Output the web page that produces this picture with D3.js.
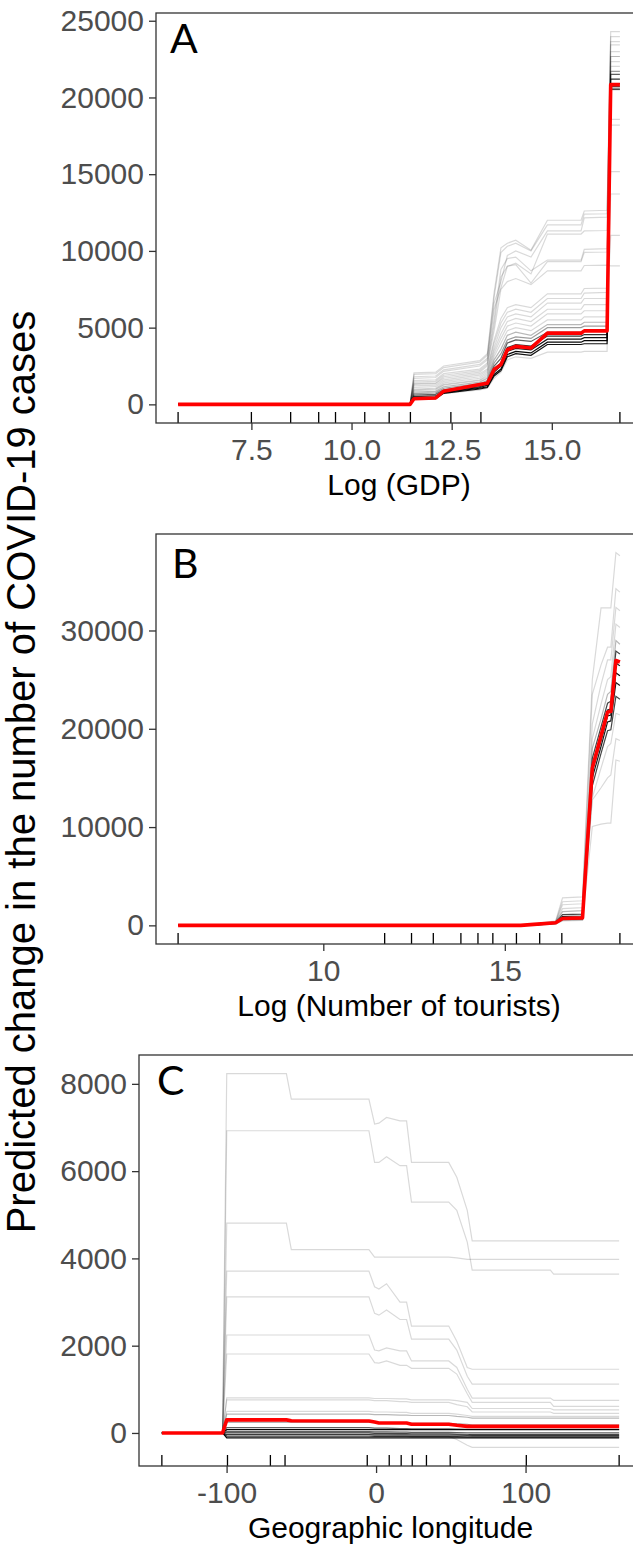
<!DOCTYPE html>
<html>
<head>
<meta charset="utf-8">
<script src="https://cdn.jsdelivr.net/npm/d3@7"></script>
<style>
	body { margin: 0; background: #fff; }
	svg { display: block; }
</style>
</head>
<body>
<script>
////////////////////////////
// data
////////////////////////////

// A : Log (GDP)
var gridA = [5.67, 11.46, 11.56, 12.1, 12.3, 13.2, 13.39, 13.56, 13.73, 13.89, 14.1, 14.48, 14.89, 15.73, 15.81, 16.38, 16.47, 16.7];
var pdpA = [0, 0, 370, 415, 860, 1295, 1380, 2270, 2590, 3560, 3780, 3670, 4640, 4640, 4790, 4790, 20840, 20840];
var iceA = [
	[0,0,2050,2100,2500,2850,3300,7300,10200,10500,10700,10050,12000,12000,12600,12650,24290,24290],
	[0,0,1950,2000,2400,2750,3200,7000,9900,10300,10500,10000,11700,11700,12400,12420,23960,23960],
	[0,0,1800,1850,2250,2600,3000,6600,8000,9700,10000,9600,11300,11300,12150,12200,23640,23640],
	[0,0,1700,1750,2150,2500,2900,6200,7600,9000,9200,8500,11100,11100,11300,11330,23430,23430],
	[0,0,1550,1600,2000,2300,2700,5600,8800,9500,9600,8700,9400,9400,10100,10150,18570,18570],
	[0,0,1450,1500,1900,2200,2600,5200,8300,9000,9100,7900,9300,9300,9900,9930,18200,18200],
	[0,0,1350,1400,1800,2100,2500,4800,7500,8000,8200,7800,8700,8700,9050,9070,9020,9020],
	[0,0,1300,1350,1700,2000,2300,4200,5600,6300,6500,6300,7200,7200,7550,7570,22340,22340],
	[0,0,1200,1250,1600,1900,2200,4000,5300,6000,6200,6000,6900,6900,7250,7300,15170,15170],
	[0,0,1100,1150,1500,1800,2100,3700,5000,5700,5900,5700,6600,6600,6900,6900,22020,22020],
	[0,0,1000,1050,1400,1700,2000,3500,4600,5400,5600,5400,6200,6200,6500,6500,13710,13710],
	[0,0,950,1000,1300,1600,1900,3300,4300,5100,5300,5100,5900,5900,6100,6100,11010,11010],
	[0,0,900,950,1250,1550,1800,3100,4000,4800,5000,4800,5500,5500,5700,5700,22990,22990],
	[0,0,800,850,1150,1450,1700,2900,3600,4500,4700,4500,5200,5200,5350,5350,22670,22670],
	[0,0,700,750,1050,1350,1550,2700,3300,4200,4400,4300,5000,5000,5100,5100,21700,21700],
	[0,0,600,650,950,1250,1450,2500,3000,4000,4200,4100,4700,4700,4800,4800,21500,21500],
	[0,0,500,550,850,1150,1350,2300,2700,3700,3900,3800,4450,4450,4550,4550,21200,21200],
	[0,0,420,460,800,1100,1250,2100,2500,3450,3650,3550,4250,4250,4350,4350,20900,20900],
	[0,0,380,420,760,1050,1150,1950,2300,3250,3450,3350,4050,4050,4150,4150,20700,20700],
	[0,0,350,380,720,1000,1100,1850,2200,3100,3300,3200,3900,3900,3950,3950,20550,20550],
	[0,0,330,360,700,950,1050,1700,2100,2900,3100,3000,3400,3400,3450,3450,20500,20500]
];
// how many country curves sit on top of each other
var countA = [1,1,1,1,1,1,1,1,1,1,1,1,1,2,3,6,10,16,22,16,1];
var rugA = [5.67, 7.5, 8.48, 9.18, 9.6, 10.33, 10.94, 11.47, 12.48, 13.23, 16.7];
var xTicksA = [7.5, 10, 12.5, 15];
var yTicksA = [0, 5000, 10000, 15000, 20000, 25000];

// B : Log (Number of tourists)
var gridB = [6.0, 15.44, 15.8, 16.4, 16.59, 17.14, 17.41, 17.65, 17.83, 17.92, 18.06, 18.17];
var pdpB = [0, 0, 100, 270, 700, 760, 16000, 19300, 21700, 21750, 26950, 26800];
var iceB = [
	[0,0,150,450,2800,2900,25000,32300,32300,32300,37920,37600],
	[0,0,130,400,2400,2500,23500,26500,28300,28300,34240,33900],
	[0,0,110,350,2100,2200,20500,24500,27000,27000,32350,32000],
	[0,0,100,320,1700,1800,19000,22500,25000,25300,30650,30300],
	[0,0,90,300,1400,1500,18000,21000,23500,23800,28970,28600],
	[0,0,70,280,1100,1150,17000,20200,22600,22800,27900,27600],
	[0,0,60,260,900,950,16300,19400,21900,22000,26700,26400],
	[0,0,50,240,750,800,15700,18800,21300,21400,25700,25400],
	[0,0,40,220,650,700,15000,18200,20700,20800,24700,24400],
	[0,0,30,200,600,650,14200,17500,19800,19900,23300,23000],
	[0,0,30,180,550,600,13000,16000,18200,18500,21580,21400],
	[0,0,20,150,500,550,12760,14000,15000,15300,19000,18800],
	[0,0,20,120,450,500,10060,10300,10400,10400,16820,16700]
];
var countB = [1,1,1,1,2,8,14,22,14,8,1,1,1];
var rugB = [6.0, 11.69, 12.43, 13.03, 13.79, 14.26, 14.67, 15.32, 15.96, 16.57, 18.17];
var xTicksB = [10, 15];
var yTicksB = [0, 10000, 20000, 30000];

// C : Geographic longitude
var gridC = [-143.3, -102.7, -99.9, -60.0, -56.7, -4.8, -1.0, 1.9, 7.0, 16.0, 20.4, 23.7, 48.6, 54.0, 61.0, 64.3, 116.6, 118.8, 162.6];
var pdpC = [0, 0, 300, 300, 280, 275, 250, 228, 228, 228, 228, 200, 200, 175, 150, 150, 150, 150, 150];
var iceC = [
	[0,0,8233,8233,7650,7650,7080,7100,7230,7150,7150,6200,6200,5860,5100,4400,4400,4400,4400],
	[0,0,6925,6925,6925,6925,6200,6200,6330,6125,6125,5290,5290,5100,4375,3730,3730,3640,3640],
	[0,0,4810,4810,4200,4200,4030,4030,4030,4030,4030,4030,4030,4010,3980,3980,3980,3980,3980],
	[0,0,3710,3710,3710,3710,3350,3300,3420,3000,3000,2450,2450,2100,1500,1460,1460,1460,1460],
	[0,0,3120,3120,3120,3120,2740,2700,2820,2600,2600,2150,2150,1900,1300,1120,1120,1120,1120],
	[0,0,2245,2245,2245,2245,1900,1880,1950,1880,1880,1650,1650,1500,1000,800,800,745,745],
	[0,0,1810,1810,1810,1810,1610,1600,1650,1550,1550,1480,1480,1350,900,700,700,610,610],
	[0,0,805,805,805,805,790,790,790,780,780,760,760,740,700,560,560,530,530],
	[0,0,760,760,760,760,740,740,740,720,720,700,700,650,600,480,480,450,450],
	[0,0,493,493,493,493,480,480,480,470,470,450,450,430,400,380,380,380,380],
	[0,0,430,430,430,430,420,420,420,410,410,400,400,380,360,340,340,340,340],
	[0,0,250,250,250,250,240,240,240,230,230,220,220,210,200,180,180,180,180],
	[0,0,120,120,120,120,110,110,110,100,100,95,95,90,85,80,80,80,80],
	[0,0,75,75,75,75,75,75,75,75,75,75,75,75,75,75,75,75,75],
	[0,0,30,30,30,30,25,25,25,20,20,15,15,10,5,0,0,0,0],
	[0,0,0,0,0,0,-10,-10,-10,-15,-15,-20,-20,-25,-30,-40,-40,-40,-40],
	[0,0,-40,-40,-40,-40,-42,-42,-42,-45,-45,-48,-48,-50,-55,-60,-60,-60,-60],
	[0,0,-75,-75,-75,-75,-78,-78,-78,-80,-80,-82,-82,-85,-88,-90,-90,-90,-90],
	[0,0,-114,-114,-114,-114,-114,-114,-114,-114,-114,-114,-114,-114,-114,-114,-114,-114,-114],
	[0,0,-40,-40,-40,-40,-50,-50,-50,-60,-60,-80,-80,-150,-280,-329,-329,-329,-329]
];
var countC = [1,1,1,1,1,1,1,1,1,1,2,3,6,24,6,8,8,10,24,1];
var rugC = [-143.3, -99.4, -70.7, -60.9, -5.9, 8.8, 16.8, 24.2, 33.7, 49.6, 100.5, 162.6];
var xTicksC = [-100, 0, 100];
var yTicksC = [0, 2000, 4000, 6000, 8000];

var panelLetters = ['A', 'B', 'C'];
var xTitles = ['Log (GDP)', 'Log (Number of tourists)', 'Geographic longitude'];
var yTitle = 'Predicted change in the number of COVID-19 cases';

////////////////////////////
var params = {};

function defineParams(){
	params.width = 633;
	params.height = 1544;
	params.panelRight = 642;   // the panels run a bit past the window
	params.tickLen = 7;
	params.rugLen = 11;
	params.axisFont = 30;
	params.titleFont = 30;
	params.iceAlpha = 0.15;
	params.font = "'Liberation Sans', Arial, sans-serif";

	// plain hyphen for negatives, like the original
	var plain = function(d){ return String(d); };

	params.panels = [
		{left:156, top:13, bottom:423, grid:gridA, pdp:pdpA, ice:iceA, count:countA, rug:rugA,
			xTicks:xTicksA, yTicks:yTicksA, xFormat:d3.format('.1f'), letterX:170, letterY:53},
		{left:156, top:534, bottom:944, grid:gridB, pdp:pdpB, ice:iceB, count:countB, rug:rugB,
			xTicks:xTicksB, yTicks:yTicksB, xFormat:plain, letterX:172, letterY:578},
		{left:139, top:1055, bottom:1466, grid:gridC, pdp:pdpC, ice:iceC, count:countC, rug:rugC,
			xTicks:xTicksC, yTicks:yTicksC, xFormat:plain, letterX:157, letterY:1095}
	];
	params.yFormat = plain;
}

function createSVG(){
	params.svg = d3.select("body").append("svg")
		.attr("width", params.width)
		.attr("height", params.height)
		.style("font-family", params.font);

	params.svg.append("text")
		.attr("transform", "translate(21," + 772 + ")rotate(-90)")
		.attr("text-anchor", "middle")
		.attr("dominant-baseline", "central")
		.style("font-size", "40px")
		.style("fill", "black")
		.text(yTitle);
}

// ggplot style 5% expansion on both ends
function expand(ext){
	var r = ext[1] - ext[0];
	return [ext[0] - 0.05*r, ext[1] + 0.05*r];
}

function drawPanel(p, i){
	var g = params.svg.append("g").attr("class", "panel");

	var x = d3.scaleLinear()
		.domain(expand(d3.extent(p.grid)))
		.range([p.left, params.panelRight]);

	var allY = d3.merge(p.ice).concat(p.pdp);
	var y = d3.scaleLinear()
		.domain(expand(d3.extent(allY)))
		.range([p.bottom, p.top]);

	var line = d3.line()
		.x(function(d, j){ return x(p.grid[j]); })
		.y(function(d){ return y(d); });

	// individual curves, drawn faint; stacked copies get darker
	g.append("g").selectAll("path")
		.data(p.ice).enter().append("path")
			.attr("d", line)
			.style("fill", "none")
			.style("stroke", "black")
			.style("stroke-width", 1.2)
			.style("stroke-opacity", function(d, j){ return 1 - Math.pow(1 - params.iceAlpha, p.count[j]); });

	// average curve
	g.append("path")
		.datum(p.pdp)
		.attr("d", line)
		.style("fill", "none")
		.style("stroke", "#ff0000")
		.style("stroke-width", 3.6)
		.style("stroke-linejoin", "round");

	// deciles rug
	g.append("g").selectAll("line")
		.data(p.rug).enter().append("line")
			.attr("x1", function(d){ return x(d); })
			.attr("x2", function(d){ return x(d); })
			.attr("y1", p.bottom)
			.attr("y2", p.bottom - params.rugLen)
			.style("stroke", "black")
			.style("stroke-width", 1.3);

	// axes
	var xAxis = g.append("g")
		.attr("transform", "translate(0," + p.bottom + ")")
		.call(d3.axisBottom(x).tickValues(p.xTicks).tickFormat(p.xFormat)
			.tickSize(params.tickLen).tickPadding(9).tickSizeOuter(0));

	var yAxis = g.append("g")
		.attr("transform", "translate(" + p.left + ",0)")
		.call(d3.axisLeft(y).tickValues(p.yTicks).tickFormat(params.yFormat)
			.tickSize(params.tickLen).tickPadding(5).tickSizeOuter(0));

	[xAxis, yAxis].forEach(function(a){
		a.select(".domain").remove();
		a.selectAll(".tick line").style("stroke", "#333").style("stroke-width", 1.3);
		a.selectAll(".tick text")
			.style("font-family", params.font)
			.style("font-size", params.axisFont + "px")
			.style("fill", "#4d4d4d");
	});

	// panel border
	g.append("rect")
		.attr("x", p.left)
		.attr("y", p.top)
		.attr("width", params.panelRight - p.left)
		.attr("height", p.bottom - p.top)
		.style("fill", "none")
		.style("stroke", "#333")
		.style("stroke-width", 1.3);

	// x title, centred on the panel
	g.append("text")
		.attr("x", (p.left + params.panelRight)/2)
		.attr("y", p.bottom + 72)
		.attr("text-anchor", "middle")
		.style("font-size", params.titleFont + "px")
		.style("fill", "black")
		.text(xTitles[i]);

	// panel letter
	g.append("text")
		.attr("x", p.letterX)
		.attr("y", p.letterY)
		.style("font-family", "Lato, 'Open Sans', sans-serif")
		.style("font-size", "41px")
		.style("fill", "black")
		.text(panelLetters[i]);
}

///////////////////////////////
//runs on load
defineParams();
createSVG();
params.panels.forEach(drawPanel);
</script>
</body>
</html>
